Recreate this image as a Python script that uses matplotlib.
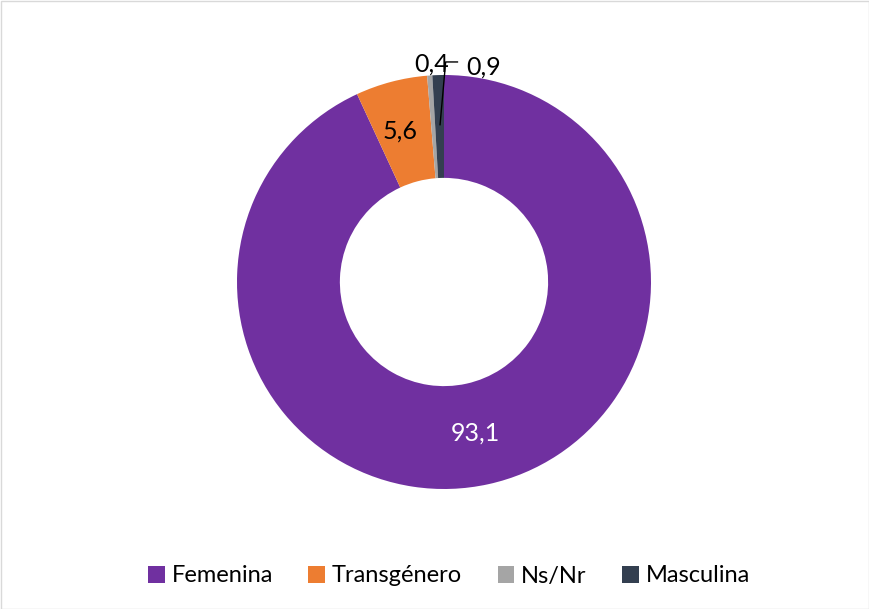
import matplotlib
matplotlib.use("Agg")
import matplotlib.pyplot as plt
from matplotlib.patches import Rectangle
from matplotlib.lines import Line2D

categories = ["Femenina", "Transgénero", "Ns/Nr", "Masculina"]
values = [93.1, 5.6, 0.4, 0.9]
labels = ["93,1", "5,6", "0,4", "0,9"]
colors = ["#7030A0", "#ED7D31", "#A5A5A5", "#333F50"]

plt.rcParams['font.family'] = ['Lato', 'DejaVu Sans']

fig = plt.figure(figsize=(8.7, 6.09), dpi=100)
W, H = 870, 609
cx, cy, R = 444, 282, 207
ax = fig.add_axes([(cx - R) / W, (H - cy - R) / H, 2 * R / W, 2 * R / H])
ax.set_xlim(-1, 1)
ax.set_ylim(-1, 1)
ax.axis('off')

wedges, _ = ax.pie(values, colors=colors, startangle=90, counterclock=False,
                   radius=1, wedgeprops=dict(width=0.497, linewidth=0),
                   normalize=True)
ax.set_xlim(-1, 1)
ax.set_ylim(-1, 1)

label_pos = [(0.15, -0.73), (-0.21, 0.73), (-0.058, 1.055), (0.19, 1.04)]
label_col = ["white", "black", "black", "black"]
for lab, (x, y), c in zip(labels, label_pos, label_col):
    ax.text(x, y, lab, ha='center', va='center', fontsize=18, color=c, clip_on=False)

ax.add_line(Line2D([-0.019, 0.008, 0.065], [0.76, 1.063, 1.063], color='black',
                   linewidth=1.0, clip_on=False))

handles = [Rectangle((0, 0), 1, 1, facecolor=c, edgecolor='none') for c in colors]
fig.legend(handles, categories, loc='center', bbox_to_anchor=(449 / W, 1 - 576 / H),
           ncol=4, frameon=False, fontsize=17, handlelength=0.7, handleheight=0.7,
           handletextpad=0.3, columnspacing=1.5)

fig.add_artist(Rectangle((0.5 / W, 0.5 / H), 1 - 1.5 / W, 1 - 1.5 / H, transform=fig.transFigure,
                         fill=False, edgecolor='#D9D9D9', linewidth=1.0))

fig.savefig("out.png", dpi=100)
